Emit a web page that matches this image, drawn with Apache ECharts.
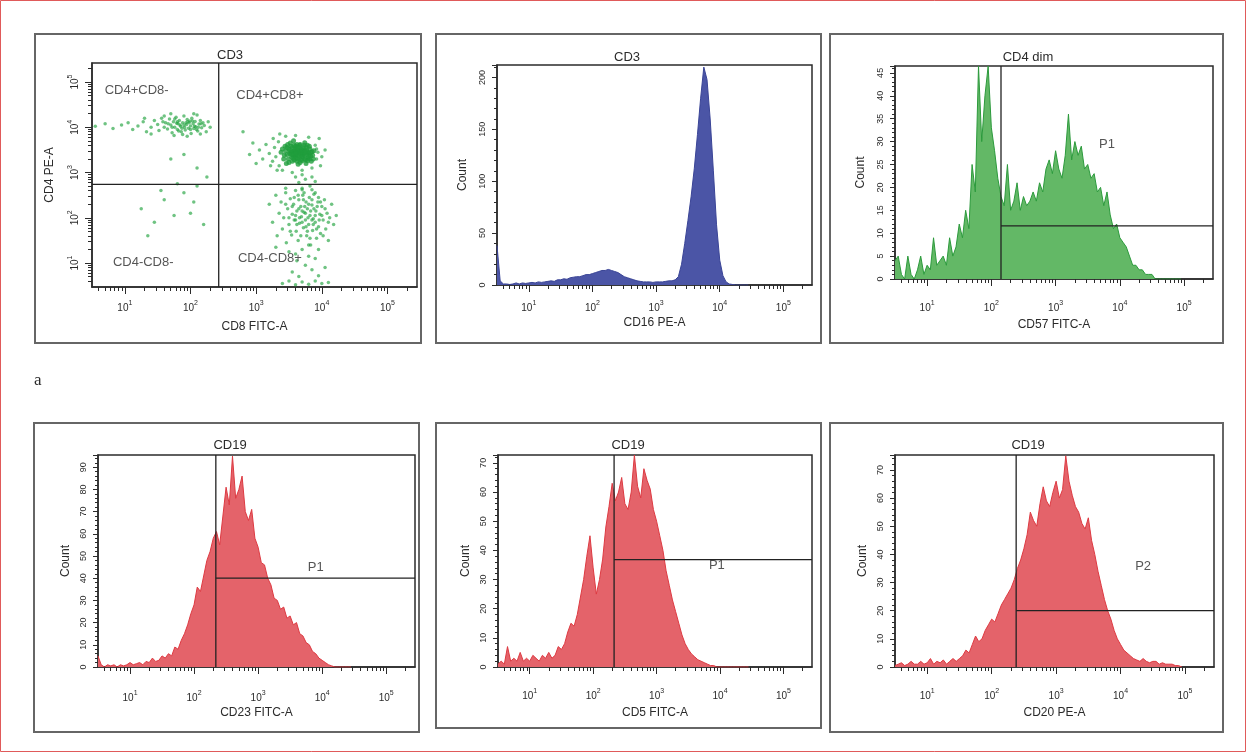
<!DOCTYPE html>
<html>
<head>
<meta charset="utf-8">
<title>CD3 / CD19 flow panels</title>
<script src="https://cdn.jsdelivr.net/npm/echarts@6/dist/echarts.min.js"></script>
<style>
  html, body { margin: 0; padding: 0; background: #fff; }
  #chart { width: 1247px; height: 753px; }
</style>
</head>
<body>
<div id="chart"></div>
<script>
// fluorescence axes are in log10 units (decades)
const decades = [1, 2, 3, 4, 5];
const logMin = 0.5, logMax = 5.45;
const dotLogMin = 0.47, dotLogMax = 5.42;
const binStart = 0.5, binWidth = 0.05;

// CD3 dot plot, points are [log CD8, log CD4]
const dotsCD4pos = [[0.55,4.02],[0.7,4.08],[0.82,3.97],[0.95,4.05],[1.05,4.1],[1.12,3.95],[1.2,4.03],[1.28,4.12],[1.33,3.9],[1.4,4.0],
  [1.45,4.15],[1.5,4.06],[1.52,3.93],[1.56,4.2],[1.6,4.0],[1.62,4.1],[1.65,3.96],[1.68,4.18],[1.7,4.05],[1.72,3.88],
  [1.74,4.12],[1.76,4.0],[1.78,4.22],[1.8,3.95],[1.81,4.08],[1.83,4.15],[1.85,4.02],[1.86,3.9],[1.88,4.1],[1.9,4.25],
  [1.91,4.0],[1.92,3.94],[1.94,4.06],[1.95,4.17],[1.97,3.98],[1.98,4.1],[2.0,4.03],[2.01,3.86],[2.02,4.2],[2.04,4.08],
  [2.05,3.97],[2.07,4.13],[2.08,4.01],[2.1,4.27],[2.11,3.92],[2.13,4.07],[2.15,4.15],[2.17,3.99],[2.19,4.1],[2.21,4.04],
  [2.24,3.9],[2.27,4.12],[2.3,4.0],[1.6,4.25],[1.75,3.82],[1.88,3.84],[2.05,4.3],[1.7,4.3],[1.95,3.8],[2.15,3.85],
  [1.4,3.85],[1.3,4.2],[1.84,4.05],[1.99,4.14],[2.09,3.95],[1.79,4.09],
  [1.72,4.0],[1.8,4.12],[1.87,3.98],[1.93,4.1],[2.0,3.95],[2.06,4.02],[1.76,4.18],[1.9,4.05],[1.96,4.12],[2.12,4.0],
  [1.66,4.08],[2.03,4.14],[1.82,3.92],[2.16,4.08],[1.58,4.12]];
// dense CD4+CD8+ core
const dotsDPcore = [[3.38,3.45],[3.42,3.3],[3.44,3.58],[3.47,3.4],[3.5,3.22],[3.5,3.52],[3.52,3.65],[3.54,3.35],[3.56,3.46],[3.58,3.28],
  [3.6,3.58],[3.61,3.4],[3.63,3.5],[3.64,3.18],[3.66,3.33],[3.67,3.62],[3.69,3.44],[3.7,3.26],[3.72,3.55],[3.73,3.38],
  [3.75,3.48],[3.76,3.2],[3.78,3.6],[3.79,3.32],[3.8,3.42],[3.82,3.52],[3.84,3.25],[3.86,3.38],[3.88,3.48],[3.4,3.52],
  [3.46,3.2],[3.53,3.44],[3.57,3.7],[3.62,3.25],[3.65,3.42],[3.68,3.52],[3.71,3.35],[3.74,3.66],[3.77,3.4],[3.81,3.3],
  [3.59,3.36],[3.55,3.55],[3.66,3.48],[3.7,3.4],[3.62,3.62],[3.48,3.62],[3.58,3.48],[3.74,3.3],[3.68,3.28],[3.6,3.47],
  [3.43,3.38],[3.45,3.48],[3.49,3.3],[3.51,3.42],[3.53,3.58],[3.55,3.25],[3.57,3.38],[3.59,3.52],[3.61,3.32],[3.63,3.44],
  [3.65,3.56],[3.67,3.22],[3.69,3.36],[3.71,3.48],[3.73,3.6],[3.75,3.28],[3.77,3.5],[3.79,3.44],[3.81,3.58],[3.83,3.36],
  [3.85,3.46],[3.87,3.3],[3.64,3.38],[3.56,3.32],[3.72,3.42],[3.66,3.6],[3.52,3.48],[3.78,3.26],[3.6,3.42],[3.7,3.5],
  [3.62,3.55],[3.58,3.6],[3.76,3.55],[3.54,3.4],[3.68,3.45],[3.74,3.45],[3.8,3.36],[3.47,3.55],[3.83,3.44],[3.63,3.3]];
const dotsDP = [[3.05,3.5],[3.1,3.3],[3.15,3.62],[3.2,3.42],[3.22,3.15],[3.26,3.75],[3.28,3.55],[3.3,3.35],[3.32,3.05],[3.34,3.68],
  [3.36,3.85],[3.9,3.6],[3.92,3.3],[3.94,3.45],[3.96,3.75],[3.98,3.15],[3.85,3.1],[3.7,3.05],[3.55,3.0],[3.6,3.82],
  [3.8,3.78],[3.45,3.8],[2.9,3.4],[2.95,3.65],[3.0,3.2],[4.05,3.5],[3.4,3.05],[3.7,2.95],[3.85,2.9],[2.8,3.9],
  [3.75,2.85],[3.65,2.78],[3.82,2.7],[3.7,2.65],[3.9,2.8],[3.6,2.9],[3.25,3.25],[3.35,3.15],[3.92,3.52],[4.0,3.35]];
const dotsCD8pos = [[3.2,2.3],[3.25,1.9],[3.3,2.5],[3.32,1.6],[3.35,2.1],[3.38,2.35],[3.4,1.75],[3.42,2.0],[3.45,2.55],[3.46,1.45],
  [3.48,2.2],[3.5,1.85],[3.52,2.42],[3.54,1.62],[3.55,2.08],[3.57,2.3],[3.58,1.95],[3.6,2.6],[3.61,1.7],[3.62,2.15],
  [3.64,1.5],[3.65,2.4],[3.66,1.88],[3.68,2.25],[3.69,2.02],[3.7,1.3],[3.71,2.5],[3.72,1.78],[3.73,2.12],[3.75,1.95],
  [3.76,2.35],[3.77,1.6],[3.78,2.2],[3.8,1.85],[3.81,2.45],[3.82,2.05],[3.83,1.4],[3.85,2.28],[3.86,1.72],[3.87,1.98],
  [3.88,2.52],[3.9,1.9],[3.91,2.15],[3.92,1.55],[3.94,2.35],[3.95,1.8],[3.97,2.08],[3.98,1.65],[4.0,2.25],[4.02,1.95],
  [4.04,2.4],[4.06,1.75],[4.08,2.1],[4.1,1.5],[4.12,2.0],[4.15,2.3],[4.18,1.85],[4.22,2.05],[3.6,1.2],[3.8,1.15],
  [3.95,1.3],[3.5,1.25],[3.3,1.35],[3.7,2.62],[3.45,2.65],[3.85,2.62],[3.62,1.05],[3.9,1.1],
  [3.6,2.05],[3.65,2.2],[3.7,1.9],[3.75,2.1],[3.8,2.3],[3.85,1.95],[3.9,2.05],[3.72,2.4],[3.78,1.7],[3.68,1.6],
  [3.82,1.55],[3.88,2.2],[3.95,2.45],[3.58,2.45],[3.62,1.85],[3.92,1.75],[4.0,2.05],[3.55,2.25],[3.85,2.4],[3.74,2.25],
  [3.66,2.0],[3.79,2.0],[3.96,1.95],[3.5,2.0],[3.87,1.85],[4.05,2.2],[3.7,2.15],[3.45,2.3],[3.83,2.15],[3.76,1.8],
  [3.93,2.25],[3.6,1.95],[4.1,1.9],[3.52,1.7],[3.98,2.35],[3.73,2.55],[3.9,2.55],[3.64,2.5],[3.8,1.4],[4.02,1.6],
  [3.4,0.55],[3.5,0.6],[3.6,0.52],[3.7,0.58],[3.8,0.53],[3.9,0.6],[4.0,0.55],[4.1,0.57],[3.55,0.8],[3.85,0.85],
  [3.75,0.95],[4.05,0.9],[3.65,0.7],[3.95,0.72]];
const dotsDN = [[1.25,2.2],[1.45,1.9],[1.6,2.4],[1.75,2.05],[1.9,2.55],[2.0,2.1],[2.1,2.7],[1.55,2.6],[2.2,1.85],[1.8,2.75],
  [1.35,1.6],[2.05,2.35],[1.7,3.3],[2.1,3.1],[1.9,3.4],[2.25,2.9]];
const quadrant = [2.43, 2.74];
const quadrantLabels = [['CD4+CD8-', 1.18, 4.82], ['CD4+CD8+', 3.21, 4.71], ['CD4-CD8-', 1.28, 1.02], ['CD4-CD8+', 3.21, 1.11]];

// histogram counts, one value per 0.05-decade bin starting at 10^0.5
const cd16Counts = [38,4,1,1,0.5,1,2,1,2,1.5, 2,2.5,2,3,2.5,3,3.5,4,3.5,5,
  5,6,5.5,7,7.5,8,8,9,10,10, 11,12,13,14,14,15,14,13,12,10,
  8,7,6,5,4,3.5,3,3,3,2.5, 3,3,3,3.5,4,4,5,8,20,40,
  62,85,112,145,180,210,198,160,110,58, 24,9,3,1,0.5,0,0,0,0,0];
const cd57Counts = [4,5,1,0,5,1,0,2,5,1, 3,2,9,3,4,5,3,9,5,7,
  12,9,15,11,25,19,46.5,30,40,46.5, 33,28,22,18,16,25,15,17,21,15,
  18,16,17,19,17,21,19,24,26,23, 28,24,22,27,36,26,30,27,29,24,
  25,22,23,19,20,16,19,14,11,12, 9,8,7,5,3,3,2,2,1,1, 1,0,0,0,0,0,0,0,0,0];
const cd23Counts = [5,1,0,1,0.5,1,0,1,0.5,1, 2,1,1.5,2,1,2.5,2,4,2.5,3,
  5,4,6,5,9,8,12,15,19,24, 28,36,34,41,48,52,58,61,55,68,
  81,73,95,76,80,86,70,66,71,58, 54,47,46,40,37,31,30,26,27,22,
  23,19,20,15,14,11,10,7,6,4, 3,2,1,0.5,0,0,0,0,0,0];
const cd5Counts = [1,2,1,7,2,3,2,5,2,3, 2,4,3,2,4,3,5,3,4,7,
  6,8,12,15,14,18,24,30,38,45, 34,25,30,37,48,55,63,57,60,65,
  56,54,60,72.7,62,58,68,64,61,54, 50,45,40,33,28,23,19,15,11,8,
  6,4.5,3.5,2.5,2,1.5,1,0.5,0.5,0, 0,0,0,0,0,0,0,0,0,0];
const cd20Counts = [0.5,1,1.5,0.5,1,2,1,1,2,1, 1.5,3,1,2,1.5,2.5,1,2,3,2,
  3,4,6,5,8,11,9,10,13,15, 17,16,19,22,24,26,28,31,35,38,
  42,47,55,52,50,58,64,59,57,62, 66,60,63,75,66,61,57,55,51,49,
  53,45,40,34,29,24,20,17,13,10, 8,6,5,4,3,2.5,2,3,2,1.5,
  2,2,1,1.5,1,1,1,0.5,0.5,0];

// gates: [log position of the vertical line, count level of the horizontal line]
const cd57Gate = [2.15, 11.6];
const cd23Gate = [2.34, 40];
const cd5Gate = [2.33, 36.8];
const cd20Gate = [2.38, 20];

const panelTitles = ['CD3', 'CD3', 'CD4 dim', 'CD19', 'CD19', 'CD19'];
const xNames = ['CD8 FITC-A', 'CD16 PE-A', 'CD57 FITC-A', 'CD23 FITC-A', 'CD5 FITC-A', 'CD20 PE-A'];
const yNames = ['CD4 PE-A', 'Count', 'Count', 'Count', 'Count', 'Count'];
const countMax = [null, 212, 46.5, 95.5, 72.7, 75.3];
const countStep = [null, 50, 5, 10, 10, 10];

const histos = [
  { panel: 1, counts: cd16Counts, fill: '#4b55a6', line: '#3a4496', gate: null },
  { panel: 2, counts: cd57Counts, fill: '#63b866', line: '#2c9a3c', gate: cd57Gate, label: ['P1', 3.8, 29.4] },
  { panel: 3, counts: cd23Counts, fill: '#e4636a', line: '#dd3a42', gate: cd23Gate, label: ['P1', 3.9, 45] },
  { panel: 4, counts: cd5Counts, fill: '#e4636a', line: '#dd3a42', gate: cd5Gate, label: ['P1', 3.95, 35] },
  { panel: 5, counts: cd20Counts, fill: '#e4636a', line: '#dd3a42', gate: cd20Gate, label: ['P2', 4.35, 35.6] }
];

// page layout in pixels
const layout = [
  { frame: [35, 34, 386, 309], grid: [92, 63, 325, 224], title: [230, 55], xMargin: 13, xGap: 34, yGap: 36, yMargin: 12 },
  { frame: [436, 34, 385, 309], grid: [497, 65, 315, 220], title: [627, 57], xMargin: 15, xGap: 32, yGap: 28, yMargin: 10 },
  { frame: [830, 34, 393, 309], grid: [895, 66, 318, 213], title: [1028, 57], xMargin: 21, xGap: 40, yGap: 28, yMargin: 10 },
  { frame: [34, 423, 385, 309], grid: [98, 455, 317, 212], title: [230, 445], xMargin: 23, xGap: 40, yGap: 26, yMargin: 10 },
  { frame: [436, 423, 385, 305], grid: [498, 455, 314, 212], title: [628, 445], xMargin: 21, xGap: 40, yGap: 26, yMargin: 10 },
  { frame: [830, 423, 393, 309], grid: [895, 455, 319, 212], title: [1028, 445], xMargin: 21, xGap: 40, yGap: 26, yMargin: 10 }
];

const fontFamily = 'Liberation Sans, Arial, sans-serif';
const ink = '#2b2b2b';

const minorDecades = [];
for (let n = 0; n <= 5; n++) {
  for (let k = 2; k <= 9; k++) {
    const v = n + Math.log10(k);
    if (v > logMin && v < logMax) minorDecades.push(v);
  }
}

const expRich = {
  b: { fontSize: 10, lineHeight: 13, color: ink, fontFamily: fontFamily, verticalAlign: 'bottom' },
  s: { fontSize: 7, lineHeight: 13, color: ink, fontFamily: fontFamily, verticalAlign: 'top' }
};
const expFormatter = v => '{b|10}{s|' + Math.round(v) + '}';

const grids = [], xAxes = [], yAxes = [], series = [];
const graphics = [
  { type: 'rect', silent: true, shape: { x: 0.5, y: 0.5, width: 1245, height: 751 }, style: { fill: 'none', stroke: '#e05a5a', lineWidth: 1 } },
  { type: 'text', silent: true, x: 34, y: 372, style: { text: 'a', font: '17px Liberation Serif', fill: ink } }
];

layout.forEach((p, i) => {
  const [gl, gt, gw, gh] = p.grid;
  grids.push({ left: gl, top: gt, width: gw, height: gh, show: true, borderColor: ink, borderWidth: 1.5, backgroundColor: '#fff' });
  graphics.push({ type: 'rect', silent: true, shape: { x: p.frame[0], y: p.frame[1], width: p.frame[2], height: p.frame[3] },
    style: { fill: 'none', stroke: '#666', lineWidth: 2 } });
  graphics.push({ type: 'text', silent: true, x: p.title[0], y: p.title[1],
    style: { text: panelTitles[i], font: '13px ' + fontFamily, fill: ink, align: 'center', verticalAlign: 'middle', textAlign: 'center', textVerticalAlign: 'middle' } });

  xAxes.push({
    gridIndex: i, type: 'value', min: logMin, max: logMax, position: 'bottom',
    name: xNames[i], nameLocation: 'middle', nameGap: p.xGap,
    nameTextStyle: { fontSize: 12, color: ink, fontFamily: fontFamily },
    axisLine: { show: true, lineStyle: { color: ink, width: 1.5 } },
    axisTick: { show: true, length: 7, customValues: decades, lineStyle: { color: ink } },
    axisLabel: { show: true, customValues: decades, margin: p.xMargin, formatter: expFormatter, rich: expRich },
    splitLine: { show: false }
  });
  xAxes.push({
    gridIndex: i, type: 'value', min: logMin, max: logMax, position: 'bottom',
    axisLine: { show: false }, axisLabel: { show: false }, splitLine: { show: false },
    axisTick: { show: true, length: 4, customValues: minorDecades, lineStyle: { color: ink } }
  });

  const yCommon = {
    gridIndex: i, type: 'value', position: 'left',
    name: yNames[i], nameLocation: 'middle', nameGap: p.yGap,
    nameTextStyle: { fontSize: 12, color: ink, fontFamily: fontFamily },
    axisLine: { show: true, lineStyle: { color: ink, width: 1.5 } },
    splitLine: { show: false }
  };
  if (i === 0) {
    yAxes.push(Object.assign({}, yCommon, {
      min: dotLogMin, max: dotLogMax,
      axisTick: { show: true, length: 7, customValues: decades, lineStyle: { color: ink } },
      axisLabel: { show: true, rotate: 90, customValues: decades, margin: p.yMargin, formatter: expFormatter, rich: expRich }
    }));
  } else {
    yAxes.push(Object.assign({}, yCommon, {
      min: 0, max: countMax[i], interval: countStep[i],
      axisTick: { show: true, length: 5, lineStyle: { color: ink } },
      minorTick: { show: true, splitNumber: 5, length: 3, lineStyle: { color: ink } },
      axisLabel: { show: true, rotate: 90, margin: p.yMargin, fontSize: 9, color: ink, fontFamily: fontFamily, showMaxLabel: false }
    }));
  }
});

// minor decade ticks on the dot plot's vertical axis
yAxes.push({
  gridIndex: 0, type: 'value', min: dotLogMin, max: dotLogMax, position: 'left',
  axisLine: { show: false }, axisLabel: { show: false }, splitLine: { show: false },
  axisTick: { show: true, length: 4, customValues: minorDecades, lineStyle: { color: ink } }
});

const gateLine = { type: 'line', symbol: 'none', silent: true, z: 5, lineStyle: { color: '#222', width: 1.3 } };
const textMark = (xIdx, yIdx, items) => ({
  type: 'scatter', xAxisIndex: xIdx, yAxisIndex: yIdx, silent: true, z: 6,
  symbolSize: 1, itemStyle: { color: 'transparent' },
  label: { show: true, position: 'inside', formatter: '{b}', fontSize: 13, color: ink, fontFamily: fontFamily },
  data: items.map(t => ({ name: t[0], value: [t[1], t[2]] }))
});

// panel 1: CD4 vs CD8 dot plot
series.push({
  type: 'scatter', xAxisIndex: 0, yAxisIndex: 0, silent: true,
  symbolSize: 3.5, itemStyle: { color: '#22a33f', opacity: 0.65 },
  data: [].concat(dotsCD4pos, dotsDP, dotsCD8pos, dotsDN)
});
series.push({
  type: 'scatter', xAxisIndex: 0, yAxisIndex: 0, silent: true,
  symbolSize: 5, itemStyle: { color: '#1f9e3c', opacity: 0.8 },
  data: dotsDPcore
});
series.push(Object.assign({}, gateLine, { xAxisIndex: 0, yAxisIndex: 0, data: [[quadrant[0], dotLogMin], [quadrant[0], dotLogMax]] }));
series.push(Object.assign({}, gateLine, { xAxisIndex: 0, yAxisIndex: 0, data: [[logMin, quadrant[1]], [logMax, quadrant[1]]] }));
series.push(textMark(0, 0, quadrantLabels));

// histogram panels
histos.forEach(h => {
  const xi = h.panel * 2, yi = h.panel;
  series.push({
    type: 'line', xAxisIndex: xi, yAxisIndex: yi, symbol: 'none', silent: true,
    lineStyle: { color: h.line, width: 1 },
    areaStyle: { color: h.fill, opacity: 1 },
    data: h.counts.map((c, k) => [binStart + k * binWidth, c])
  });
  if (h.gate) {
    series.push(Object.assign({}, gateLine, { xAxisIndex: xi, yAxisIndex: yi, data: [[h.gate[0], 0], [h.gate[0], countMax[h.panel]]] }));
    series.push(Object.assign({}, gateLine, { xAxisIndex: xi, yAxisIndex: yi, data: [[h.gate[0], h.gate[1]], [logMax, h.gate[1]]] }));
    series.push(textMark(xi, yi, [h.label]));
  }
});

const myChart = echarts.init(document.getElementById('chart'));
myChart.setOption({
  animation: false,
  backgroundColor: '#fff',
  textStyle: { fontFamily: fontFamily },
  grid: grids,
  xAxis: xAxes,
  yAxis: yAxes,
  series: series,
  graphic: graphics
});
</script>
</body>
</html>
